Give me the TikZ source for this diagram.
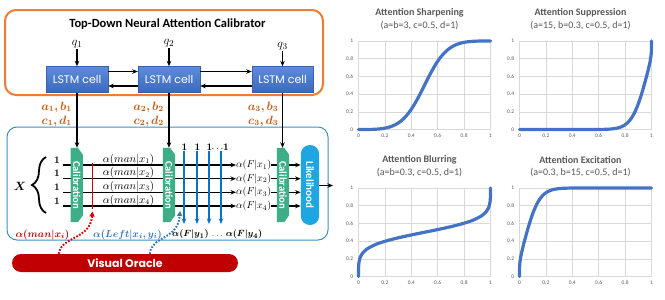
\documentclass[tikz,border=0pt]{standalone}
\usepackage{amsmath,bm}
\usepackage{fontspec}
\setmainfont{Carlito}
\newfontfamily\popp{Poppins}
\usetikzlibrary{arrows.meta,decorations.pathreplacing}
\definecolor{orangeb}{HTML}{ED7D31}
\definecolor{olab}{HTML}{C55A11}
\definecolor{lstmtop}{HTML}{5B8CD9}
\definecolor{lstmbot}{HTML}{3D69BD}
\definecolor{lstmedge}{HTML}{3A62A8}
\definecolor{calg}{HTML}{3DAE88}
\definecolor{likb}{HTML}{1EA6E0}
\definecolor{boxb}{HTML}{3E8FBF}
\definecolor{oracle}{HTML}{C00000}
\definecolor{redl}{HTML}{D00000}
\definecolor{bluea}{HTML}{0A72C6}
\definecolor{bluel}{HTML}{2E75B6}
\definecolor{gridc}{HTML}{D9D9D9}
\definecolor{txtg}{HTML}{595959}
\definecolor{curvec}{HTML}{4472C4}
\newcommand{\mychart}[7]{%
  \node[ctitle] (#7t) at (#1+61,#2-28) {#5};
  \node[csub] (#7s) at (#1+61,#2-15.5) {#6};
  \begin{scope}[shift={(#1,#2+88.5)},x=132pt,y=88.5pt]
    \foreach \v [count=\i] in {0,0.2,0.4,0.6,0.8,1}{
      \draw[gridl] (\v,0) -- (\v,1);
      \draw[gridl] (0,\v) -- (1,\v);
      \node[tick,anchor=east] (#7y\i) at (-0.035,\v) {\v};
      \node[tick,anchor=north] (#7x\i) at (\v,-0.04) {\v};
    }
    \draw[curve] (0,0) -- plot[domain=1:179,samples=120,variable=\t] ({pxx(\t)},{calf(pxx(\t),#3,#4)}) -- (1,1);
  \end{scope}%
}
\begin{document}
\begin{tikzpicture}[x=1pt,y=-1pt,
  declare function={pxx(\t)=(1-cos(\t))/2; calf(\x,\a,\b)=pow(\x,\a)/(pow(\x,\a)+pow(1-\x,\b));},
  arr/.style={line width=1.3pt,-{Stealth[length=5.5pt,width=4.5pt]}},
  ln/.style={line width=1.3pt},
  barr/.style={draw=bluea,line width=1.5pt,-{Stealth[length=5.5pt,width=4.5pt]}},
  dotr/.style={draw=redl,line width=2pt,dash pattern=on 1.6pt off 1.6pt,-{Triangle[length=5pt,width=5pt]}},
  dotb/.style={draw=bluel,line width=2pt,dash pattern=on 1.6pt off 1.6pt,-{Triangle[length=5pt,width=5pt]}},
  lstm/.style={draw=lstmedge,line width=0.4pt,top color=lstmtop,bottom color=lstmbot,minimum width=62pt,minimum height=26pt,inner sep=0pt,text=white,font=\popp\fontsize{11}{12}\selectfont},
  calib/.style={minimum width=12pt,minimum height=74pt,inner sep=0pt},
  caltxt/.style={text=white,font=\bfseries\fontsize{10.5}{11}\selectfont,inner sep=0pt},
  lik/.style={fill=likb,rounded corners=9pt,minimum width=18.3pt,minimum height=80pt,inner sep=0pt,text=white,font=\bfseries\fontsize{11}{12}\selectfont},
  olabel/.style={text=olab,font=\fontsize{12}{13}\selectfont,inner sep=0pt},
  aml/.style={font=\fontsize{10.5}{11}\selectfont,inner sep=0pt},
  fxl/.style={font=\fontsize{10}{11}\selectfont,inner sep=0pt},
  onel/.style={font=\fontsize{10}{11}\selectfont,inner sep=0pt},
  ctitle/.style={text=txtg,font=\bfseries\fontsize{10}{11}\selectfont,inner sep=0pt},
  csub/.style={text=txtg,font=\fontsize{10}{11}\selectfont,inner sep=0pt},
  tick/.style={text=txtg,font=\fontsize{5.5}{6}\selectfont,inner sep=0.5pt},
  gridl/.style={draw=gridc,line width=0.6pt},
  curve/.style={draw=curvec,line width=3.2pt,line join=round,line cap=round}
]
\useasboundingbox (0,0) rectangle (665,300);

% ---------- top box ----------
\node[draw=orangeb,line width=2pt,rounded corners=11pt,minimum width=318pt,minimum height=85pt] (topbox) at (164,52.5) {};
\node[font=\bfseries\fontsize{12.5}{14}\selectfont,inner sep=0pt] (title) at (167.5,24) {Top-Down Neural Attention Calibrator};

\node[lstm] (c1) at (77,79.5) {LSTM cell};
\node[lstm] (c2) at (169,79.5) {LSTM cell};
\node[lstm,minimum width=61pt] (c3) at (282.5,79.5) {LSTM cell};

\node[font=\fontsize{13}{14}\selectfont,inner sep=1pt] (q1) at (77,44) {$q_1$};
\node[font=\fontsize{13}{14}\selectfont,inner sep=1pt] (q2) at (169,43) {$q_2$};
\node[font=\fontsize{13}{14}\selectfont,inner sep=1pt] (q3) at (282.5,46.5) {$q_3$};
\foreach \i in {1,2,3}{\draw[arr] (q\i.south) -- (c\i.north);}

\draw[arr] ([yshift=8pt]c1.east) -- ([yshift=8pt]c2.west);
\draw[arr] ([yshift=-6.5pt]c2.west) -- ([yshift=-6.5pt]c1.east);
\draw[arr] ([yshift=8pt]c2.east) -- ([yshift=8pt]c3.west);
\draw[arr] ([yshift=-6.5pt]c3.west) -- ([yshift=-6.5pt]c2.east);

% ---------- bottom box ----------
\node[draw=boxb,line width=1pt,rounded corners=10pt,minimum width=321pt,minimum height=113pt] (botbox) at (167.5,183.5) {};

\node[calib] (cal1) at (76.7,185) {};
\node[calib] (cal2) at (169,185) {};
\node[calib] (cal3) at (283,185) {};
\node[lik] (lik) at (310,185) {\rotatebox{-90}{Likelihood}};

\node[olabel,anchor=east] (ab1) at (72,107) {$\bm{a_1, b_1}$};
\node[olabel,anchor=east] (cd1) at (72,121) {$\bm{c_1, d_1}$};
\node[olabel,anchor=east] (ab2) at (164,107) {$\bm{a_2, b_2}$};
\node[olabel,anchor=east] (cd2) at (164,121) {$\bm{c_2, d_2}$};
\node[olabel,anchor=east] (ab3) at (278.5,107) {$\bm{a_3, b_3}$};
\node[olabel,anchor=east] (cd3) at (278.5,121) {$\bm{c_3, d_3}$};

\draw[arr] (c1.south) -- (c1.south |- cal1.north);
\draw[arr] (c2.south) -- (c2.south |- cal2.north);
\draw[arr] (c3.south) -- (c3.south |- cal3.north);

% rows
\coordinate (r1) at (63,165);
\coordinate (r2) at (63,178.7);
\coordinate (r3) at (63,192.3);
\coordinate (r4) at (63,206);
\foreach \i in {1,2,3,4}{
  \node[fxl,anchor=west] (fx\i) at (236,0 |- r\i) {$\alpha(F|x_\i)$};
  \node[aml,anchor=base] (m\i) at (128.5,0 |- r\i) [yshift=3pt] {$\alpha(man|x_\i)$};
  \node[onel,anchor=base] (one\i) at (57,0 |- r\i) [yshift=2pt] {$\bm{1}$};
  \draw[ln] (r\i) -- (cal2.west |- r\i);
  \draw[arr] (cal2.east |- r\i) -- (fx\i.west);
  \draw[ln] (fx\i.east) -- (cal3.west |- r\i);
  \draw[arr] (cal3.east |- r\i) -- (lik.west |- r\i);
}

% X and brace
\node[font=\fontsize{13}{14}\selectfont,inner sep=0pt] (X) at (20,186) {$\bm{X}$};
\coordinate (brb) at (46,213);
\coordinate (brt) at (46,157);
\draw[decorate,decoration={brace,amplitude=14pt},line width=1.8pt] (brb) -- (brt);

% red line
\coordinate (rtop) at (92.5,162.5);
\coordinate (rbot) at (92.5,209);
\draw[draw=redl,line width=1.6pt] (rtop) -- (rbot);

% blue arrows
\node[onel] (o1) at (184.5,147.5) {$\bm{1}$};
\node[onel] (o2) at (197.5,147.5) {$\bm{1}$};
\node[onel] (o3) at (209.5,147.5) {$\bm{1}$};
\node[onel] (odots) at (217.5,148.5) {$\ldots$};
\node[onel] (o4) at (226,147.5) {$\bm{1}$};
\coordinate (e1) at (184,224);
\coordinate (e2) at (197,224);
\coordinate (e3) at (209,224);
\coordinate (e4) at (221,224);
\node[font=\fontsize{9.5}{10}\selectfont,inner sep=0pt,anchor=west] (fy) at (172,234.5) {$\bm{\alpha(F|y_1)}\,\ldots\,\bm{\alpha(F|y_4)}$};

% output
\coordinate (out) at (333,185.5);
\draw[arr] (lik.east |- out) -- (out);

% calibration blocks (drawn over the lines)
\foreach \c in {cal1,cal2,cal3}{
  \fill[calg] (\c.north west) -- ([xshift=-5pt]\c.north east) -- ([yshift=-7pt]\c.north east)
     -- ([yshift=7pt]\c.south east) -- ([xshift=-5pt]\c.south east) -- (\c.south west) -- cycle;
  \node[caltxt] at (\c) {\rotatebox{-90}{Calibration}};
}
\foreach \i in {1,2,3,4}{\draw[barr] (e\i |- o1.south) -- (e\i);}

% visual oracle and labels
\node[fill=oracle,rounded corners=9pt,minimum width=226pt,minimum height=18pt,inner sep=0pt,text=white,font=\popp\bfseries\fontsize{11}{12}\selectfont] (vo) at (125,263) {Visual Oracle};
\node[text=oracle,font=\fontsize{10}{11}\selectfont,inner sep=0pt] (rl) at (42.5,234.5) {$\bm{\alpha(man|x_i)}$};
\node[text=bluel,font=\fontsize{10}{11}\selectfont,inner sep=0pt] (bl) at (127.5,234.5) {$\bm{\alpha(Left|x_i,y_i)}$};
\coordinate (rend) at (92.5,211.5);
\coordinate (bend) at (180,211);
\draw[dotr] ([xshift=47pt]vo.north west) .. controls (61,236) and (90,240) .. (rend);
\draw[dotb] ([xshift=138pt]vo.north west) .. controls (151,236) and (178,240) .. (bend);

% ---------- charts ----------
\mychart{358.5}{41}{3}{3}{Attention Sharpening}{(a=b=3, c=0.5, d=1)}{ch1}
\mychart{519.5}{41}{15}{0.3}{Attention Suppression}{(a=15, b=0.3, c=0.5, d=1)}{ch2}
\mychart{358.5}{188}{0.3}{0.3}{Attention Blurring}{(a=b=0.3, c=0.5, d=1)}{ch3}
\mychart{519.5}{188}{0.3}{15}{Attention Excitation}{(a=0.3, b=15, c=0.5, d=1)}{ch4}
\end{tikzpicture}
\end{document}
